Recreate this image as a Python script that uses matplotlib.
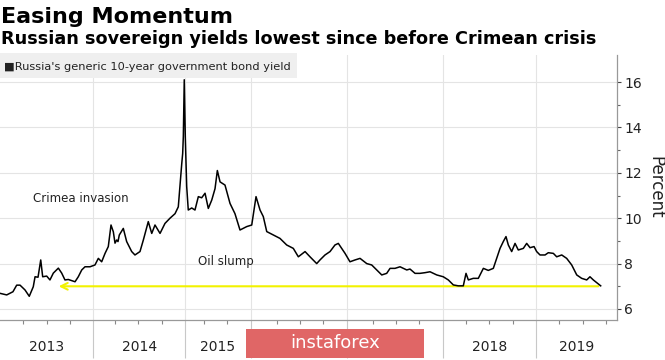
import matplotlib
matplotlib.use('Agg')
import matplotlib.pyplot as plt
import matplotlib.patches as mpatches
from matplotlib.transforms import blended_transform_factory
import numpy as np

# chart position (decimal year as drawn on the axis) and 10y yield, %
t_axis = [2013.000, 2013.072, 2013.139, 2013.179, 2013.215, 2013.268, 2013.314, 2013.357, 2013.376, 2013.408,
          2013.437, 2013.458, 2013.501, 2013.536, 2013.572, 2013.626, 2013.662, 2013.697, 2013.733, 2013.769,
          2013.805, 2013.840, 2013.877, 2013.912, 2013.966,
          2014.019, 2014.055, 2014.091, 2014.127, 2014.162, 2014.191, 2014.216, 2014.234, 2014.252, 2014.266,
          2014.280, 2014.323, 2014.359, 2014.413, 2014.448, 2014.502, 2014.538, 2014.591, 2014.628, 2014.663,
          2014.717, 2014.770, 2014.824, 2014.878, 2014.913, 2014.950, 2014.960, 2014.967, 2014.977, 2014.988,
          2015.003, 2015.020, 2015.057, 2015.092, 2015.128, 2015.164, 2015.200, 2015.235, 2015.272, 2015.307,
          2015.332, 2015.361, 2015.414, 2015.468, 2015.521, 2015.575, 2015.647, 2015.701, 2015.736, 2015.747,
          2015.790, 2015.825, 2015.862, 2015.932,
          2016.004, 2016.076, 2016.147, 2016.201, 2016.273, 2016.326, 2016.398, 2016.433, 2016.487, 2016.541,
          2016.594, 2016.630, 2016.666, 2016.702, 2016.755, 2016.809, 2016.863, 2016.935, 2016.988,
          2017.042, 2017.096, 2017.149, 2017.185, 2017.238, 2017.292, 2017.364, 2017.399, 2017.453, 2017.506,
          2017.560, 2017.614, 2017.686, 2017.756, 2017.810, 2017.864, 2017.917, 2017.971,
          2018.000, 2018.025, 2018.078, 2018.132, 2018.186, 2018.239, 2018.293, 2018.329, 2018.365, 2018.400,
          2018.429, 2018.454, 2018.490, 2018.526, 2018.561, 2018.615, 2018.651, 2018.687, 2018.730, 2018.758,
          2018.794, 2018.848, 2018.883, 2018.937, 2018.973,
          2019.027, 2019.080, 2019.134, 2019.188, 2019.241, 2019.295, 2019.330, 2019.366, 2019.402, 2019.445]

yields = [6.69, 6.62, 6.76, 7.05, 7.05, 6.84, 6.56, 6.98, 7.42, 7.40,
          8.16, 7.42, 7.45, 7.28, 7.58, 7.80, 7.58, 7.28, 7.30, 7.25,
          7.20, 7.42, 7.72, 7.86, 7.86,
          7.94, 8.23, 8.08, 8.45, 8.75, 9.70, 9.40, 8.90, 9.04, 8.97,
          9.26, 9.55, 8.97, 8.53, 8.38, 8.53, 9.04, 9.85, 9.33, 9.70,
          9.33, 9.77, 10.0, 10.2, 10.5, 12.4, 12.85, 13.6, 16.1, 13.6,
          11.4, 10.36, 10.45, 10.36, 10.95, 10.9, 11.1, 10.43, 10.8, 11.3,
          12.1, 11.6, 11.46, 10.65, 10.2, 9.48, 9.63, 9.70, 10.66, 10.95,
          10.36, 10.07, 9.41, 9.26,
          9.11, 8.82, 8.67, 8.30, 8.53, 8.30, 8.00, 8.16, 8.38, 8.53,
          8.82, 8.89, 8.67, 8.45, 8.08, 8.16, 8.23, 8.00, 7.94,
          7.72, 7.50, 7.57, 7.79, 7.79, 7.86, 7.72, 7.76, 7.57, 7.57,
          7.60, 7.64, 7.50, 7.42, 7.28, 7.06, 7.02, 7.02,
          7.57, 7.28, 7.35, 7.35, 7.79, 7.70, 7.79, 8.23, 8.67, 8.97,
          9.19, 8.82, 8.53, 8.89, 8.60, 8.67, 8.89, 8.70, 8.75, 8.53,
          8.38, 8.38, 8.48, 8.45, 8.30,
          8.38, 8.23, 7.94, 7.50, 7.35, 7.28, 7.42, 7.28, 7.16, 7.02]

# 2016 and 2017 labels are hidden under the watermark in the reference
year_labels = ['2013', '2014', '2015', '', '', '2018', '2019']
year_edges = [2013.0, 2014.0, 2014.985, 2015.69, 2016.72, 2017.75, 2018.75, 2019.75]
low_level = 7.0

fig = plt.figure(figsize=(6.65, 3.6), dpi=100)
ax = fig.add_axes([0.0, 40 / 360, 617 / 665, 265 / 360])

ax.plot(t_axis, yields, color='black', lw=1.1, zorder=3)

xmin, xmax = 2013.0, 2019.62
ax.set_xlim(xmin, xmax)
ax.set_ylim(5.515, 17.19)

# yellow arrow back to the pre-crisis level
ax.annotate('', xy=(2013.60, low_level), xytext=(2019.45, low_level),
            arrowprops=dict(arrowstyle='->', color='#f2f200', lw=1.5,
                            mutation_scale=12), zorder=2)

# grid
ax.set_yticks(np.arange(6, 17, 2))
ax.set_yticks(np.arange(7, 17, 2), minor=True)
ax.yaxis.grid(True, which='major', color='#e4e4e4', lw=0.8)
inner = [e for e in year_edges if xmin < e < xmax]
for e in inner:
    ax.axvline(e, color='#e4e4e4', lw=0.8, zorder=0)

# x ticks: long year separators, short quarter marks
ax.set_xticks(inner)
ax.set_xticklabels([])
quarters = []
for a, b in zip(year_edges[:-1], year_edges[1:]):
    q = b - 0.25
    while q > a + 0.05:
        if q < xmax:
            quarters.append(q)
        q -= 0.25
ax.set_xticks(quarters, minor=True)
ax.tick_params(axis='x', which='major', length=27, width=0.8, color='#c8c8c8', direction='out')
ax.tick_params(axis='x', which='minor', length=3, width=0.8, color='#888888', direction='out')

trans = blended_transform_factory(ax.transData, ax.transAxes)
for i, lab in enumerate(year_labels):
    if not lab:
        continue
    a = year_edges[i]
    b = min(year_edges[i + 1], xmax)
    ax.text((a + b) / 2, -0.102, lab, transform=trans, ha='center', va='center',
            fontsize=10, color='#222222', clip_on=False)

# y axis on the right
ax.yaxis.tick_right()
ax.tick_params(axis='y', which='major', length=3, width=0.8, color='#444444',
               labelsize=10, labelcolor='#222222', pad=2)
ax.tick_params(axis='y', which='minor', length=2, width=0.8, color='#666666')
for s in ['left', 'top']:
    ax.spines[s].set_visible(False)
for s in ['right', 'bottom']:
    ax.spines[s].set_color('#999999')
    ax.spines[s].set_linewidth(0.9)

fig.text(655 / 665, 1 - 187 / 360, 'Percent', rotation=270, ha='center', va='center',
         fontsize=12, color='#222222')

ax.text(2013.87, 10.85, 'Crimea invasion', ha='center', va='center', fontsize=8.5, color='#222222')
ax.text(2015.425, 8.11, 'Oil slump', ha='center', va='center', fontsize=8.5, color='#222222')

# titles
fig.text(0.002, 1 - 23 / 360, 'Easing Momentum', fontsize=16, fontweight='bold',
         ha='left', va='baseline', color='black')
fig.text(0.002, 1 - 43.5 / 360, 'Russian sovereign yields lowest since before Crimean crisis',
         fontsize=12.7, fontweight='bold', ha='left', va='baseline', color='black')

# legend box
fig.patches.append(mpatches.Rectangle((0, 1 - 78 / 360), 297 / 665, 25 / 360,
                                      transform=fig.transFigure, facecolor='#efefef',
                                      edgecolor='none', zorder=1))
fig.text(4 / 665, 1 - 67 / 360, "\u25a0Russia's generic 10-year government bond yield",
         fontsize=8.2, ha='left', va='center', color='#222222', zorder=2)

# watermark
fig.patches.append(mpatches.Rectangle((246 / 665, 2 / 360), 178 / 665, 29 / 360,
                                      transform=fig.transFigure, facecolor='#e06666',
                                      edgecolor='none', zorder=5))
fig.text(335 / 665, 1 - 343 / 360, 'instaforex', fontsize=13, ha='center', va='center',
         color='white', zorder=6)

plt.savefig('out.png', dpi=100)
plt.close()
